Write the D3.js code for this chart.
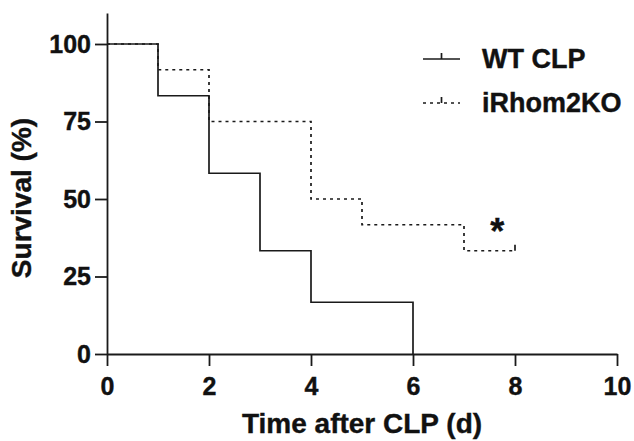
<!DOCTYPE html>
<html>
<head>
<meta charset="utf-8">
<script src="https://cdn.jsdelivr.net/npm/d3@7"></script>
<style>
  body { margin: 0; background: #fff; }
  text { font-family: "Liberation Sans", Arial, sans-serif; font-weight: bold; fill: #111; stroke: #111; stroke-width: 0.4px; }
</style>
</head>
<body>
<div id="vis"></div>
<script>

const FRAME_WIDTH = 634;
const FRAME_HEIGHT = 441;
const MARGINS = {left: 107, right: 17, top: 13, bottom: 87};

// survival steps: time, survival %
const WT_TIME = [0, 1, 2, 3, 4, 6];
const WT_SURV = [100, 83.3, 58.3, 33.3, 16.7, 0];
const KO_TIME = [0, 1, 2, 4, 5, 7];
const KO_SURV = [100, 91.7, 75, 50, 41.7, 33.3];
const KO_END = 8;   // censored at day 8

const X_TICKS = [0, 2, 4, 6, 8, 10];
const Y_TICKS = [0, 25, 50, 75, 100];
const SERIES_NAMES = ["WT CLP", "iRhom2KO"];

const FRAME = d3.select("#vis")
                .append("svg")
                  .attr("width", FRAME_WIDTH)
                  .attr("height", FRAME_HEIGHT);

const X_SCALE = d3.scaleLinear()
                  .domain([0, 10])
                  .range([MARGINS.left, FRAME_WIDTH - MARGINS.right]);

const Y_SCALE = d3.scaleLinear()
                  .domain([0, 110])
                  .range([FRAME_HEIGHT - MARGINS.bottom, MARGINS.top]);

// step line builder
function steps(times, surv, end) {
  const pts = times.map((t, i) => [t, surv[i]]);
  if (end !== undefined) pts.push([end, surv[surv.length - 1]]);
  return pts;
}

const line = d3.line()
               .x(d => X_SCALE(d[0]))
               .y(d => Y_SCALE(d[1]))
               .curve(d3.curveStepAfter);

// axes
const xAxis = FRAME.append("g")
      .attr("transform", "translate(0," + Y_SCALE(0) + ")")
      .call(d3.axisBottom(X_SCALE).tickValues(X_TICKS).tickSize(12).tickPadding(11).tickSizeOuter(0));

const yAxis = FRAME.append("g")
      .attr("transform", "translate(" + X_SCALE(0) + ",0)")
      .call(d3.axisLeft(Y_SCALE).tickValues(Y_TICKS).tickSize(12).tickPadding(4).tickSizeOuter(0));

[xAxis, yAxis].forEach(g => {
  g.attr("font-size", null).attr("font-family", null);
  g.selectAll("path, line").attr("stroke", "#1a1a1a").attr("stroke-width", 1.8);
  g.selectAll("text").style("font-size", "25px");
});

// KO dashed (drawn first, below)
FRAME.append("path")
     .datum(steps(KO_TIME, KO_SURV, KO_END))
     .attr("d", line)
     .attr("fill", "none")
     .attr("stroke", "#1a1a1a")
     .attr("stroke-width", 1.7)
     .attr("stroke-dasharray", "3,4");

// censor mark at end of KO
FRAME.append("line")
     .attr("x1", X_SCALE(KO_END)).attr("x2", X_SCALE(KO_END))
     .attr("y1", Y_SCALE(KO_SURV[KO_SURV.length - 1]))
     .attr("y2", Y_SCALE(KO_SURV[KO_SURV.length - 1]) - 6)
     .attr("stroke", "#1a1a1a")
     .attr("stroke-width", 1.7);

// WT solid, drop to zero at day 6
FRAME.append("path")
     .datum(steps(WT_TIME, WT_SURV))
     .attr("d", line)
     .attr("fill", "none")
     .attr("stroke", "#1a1a1a")
     .attr("stroke-width", 1.7);

// significance star
FRAME.append("text")
     .attr("x", X_SCALE(7.65))
     .attr("y", Y_SCALE(35.5))
     .attr("text-anchor", "middle")
     .style("font-size", "36px")
     .text("*");

// axis titles
FRAME.append("text")
     .attr("x", 362)
     .attr("y", 433)
     .attr("text-anchor", "middle")
     .style("font-size", "28px")
     .text("Time after CLP (d)");

FRAME.append("text")
     .attr("transform", "translate(31,198) rotate(-90)")
     .attr("text-anchor", "middle")
     .style("font-size", "28px")
     .text("Survival (%)");

// legend
const LEG = FRAME.append("g").attr("transform", "translate(423,59)");
SERIES_NAMES.forEach((name, i) => {
  const row = LEG.append("g").attr("transform", "translate(0," + (i * 44) + ")");
  row.append("line")
     .attr("x1", 0).attr("x2", 37).attr("y1", 0).attr("y2", 0)
     .attr("stroke", "#1a1a1a").attr("stroke-width", 1.7)
     .attr("stroke-dasharray", i === 1 ? "3,4" : null);
  row.append("line")
     .attr("x1", 18.5).attr("x2", 18.5).attr("y1", 0).attr("y2", -6)
     .attr("stroke", "#1a1a1a").attr("stroke-width", 1.7);
  row.append("text")
     .attr("x", 59)
     .attr("y", 0)
     .attr("dy", "0.35em")
     .style("font-size", "27px")
     .text(name);
});

</script>
</body>
</html>
